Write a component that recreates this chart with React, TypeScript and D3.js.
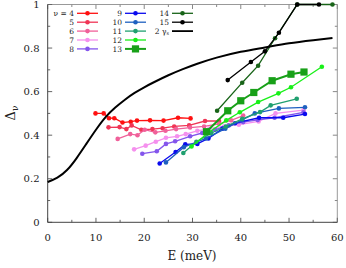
import React from "react";
import * as d3 from "d3";

const W = 346, H = 268;
const M = { left: 47.7, right: 337.3, top: 4.5, bottom: 222.3 };

const xTicks = [0, 10, 20, 30, 40, 50, 60];
const yTicks = [0, 0.2, 0.4, 0.6, 0.8, 1];
const yTickLabels = ["0", "0.2", "0.4", "0.6", "0.8", "1"];

const seriesNames = ["4", "5", "6", "7", "8", "9", "10", "11", "12", "13", "14", "15"];
const seriesColors = ["#ff1010", "#f03555", "#f0609a", "#f590ee", "#8455ec", "#0a0aee", "#1e60c0", "#20a070", "#18f018", "#18a018", "#186418", "#000000"];

const s4 = [[9.9,0.50],[11.6,0.50],[12.7,0.478],[13.8,0.478],[15.5,0.458],[17.2,0.462],[18.5,0.467],[21.2,0.468],[24.0,0.467],[27.0,0.48],[29.6,0.477]];
const s5 = [[12.6,0.436],[14.9,0.437],[16.3,0.428],[17.4,0.445],[19.4,0.425],[21.7,0.428],[23.8,0.432],[26.2,0.44],[29.3,0.445],[32.6,0.465],[35.5,0.465]];
const s6 = [[14.5,0.383],[17.1,0.405],[18.6,0.40],[20.1,0.425],[22.3,0.413],[24.4,0.42],[26.6,0.428],[29.5,0.435],[32.4,0.44],[35.5,0.452],[38.0,0.468],[40.5,0.49]];
const s7 = [[17.9,0.335],[20.3,0.352],[22.4,0.37],[24.5,0.388],[26.8,0.395],[28.6,0.405],[31.0,0.42],[33.5,0.43],[36.5,0.44],[39.6,0.448],[43.7,0.463],[47.2,0.50],[53.0,0.515]];
const s8 = [[19.6,0.315],[22.6,0.326],[24.5,0.36],[26.4,0.372],[29.5,0.395],[32.0,0.41],[34.7,0.425],[37.5,0.445],[40.5,0.46],[43.5,0.47],[47.0,0.48],[53.0,0.505]];
const s9 = [[23.2,0.27],[26.5,0.323],[28.5,0.358],[31.0,0.36],[33.3,0.385],[36.2,0.43],[38.8,0.455],[43.8,0.48],[48.8,0.48],[53.3,0.497]];
const s10 = [[24.5,0.275],[28.2,0.345],[32.8,0.385],[36.8,0.43],[40.3,0.47],[42.9,0.50],[47.9,0.523],[53.3,0.528]];
const s11 = [[28.1,0.318],[30.8,0.37],[33.9,0.41],[36.9,0.44],[40.3,0.475],[44.0,0.506],[46.2,0.537],[51.6,0.567]];
const s12 = [[29.8,0.348],[33.2,0.41],[37.0,0.468],[39.8,0.505],[43.6,0.552],[47.8,0.592],[50.4,0.62],[56.8,0.714]];
const s13 = [[32.9,0.416],[37.3,0.512],[40.0,0.558],[42.7,0.596],[46.5,0.65],[50.4,0.68],[53.1,0.69]];
const s14 = [[35.1,0.512],[40.3,0.641],[43.6,0.719],[47.1,0.845],[51.7,1.0],[59.0,1.0]];
const s15 = [[37.3,0.653],[42.1,0.736],[45.0,0.785],[47.9,0.87],[51.7,1.0],[56.2,1.0]];
const seriesData = [s4, s5, s6, s7, s8, s9, s10, s11, s12, s13, s14, s15];

const gammaCurve = [[0,0.185],[2,0.205],[4,0.24],[6,0.295],[8,0.36],[10,0.425],[12,0.483],[14,0.527],[16,0.563],[18,0.594],[20,0.62],[22,0.643],[25,0.675],[28,0.703],[31,0.728],[35,0.756],[40,0.783],[45,0.803],[50,0.822],[55,0.836],[59,0.846]];

const x = d3.scaleLinear().domain([0, 60]).range([M.left, M.right]);
const y = d3.scaleLinear().domain([0, 1]).range([M.bottom, M.top]);

const FONT = "'DejaVu Serif', serif";

export default function App() {
  const line = d3.line<number[]>().x(d => x(d[0])).y(d => y(d[1]));
  const curve = d3.line<number[]>().x(d => x(d[0])).y(d => y(d[1])).curve(d3.curveNatural);
  const xMinor = d3.range(0, 61, 5);
  const yMinor = d3.range(0, 1.001, 0.1);

  const legendCols = [
    { labelX: 74, x0: 77, x1: 98 },
    { labelX: 122, x0: 125, x1: 146 },
    { labelX: 169, x0: 172, x1: 193 },
  ];
  const rowY = (i: number) => 13.3 + i * 8.9;

  const legendItems = seriesNames.map((n, i) => {
    const col = i < 5 ? 0 : i < 10 ? 1 : 2;
    const row = i < 5 ? i : i < 10 ? i - 5 : i - 10;
    return { name: i === 0 ? "\u03bd = 4" : n, color: seriesColors[i], col, row, idx: i };
  });

  return (
    <svg width={W} height={H} style={{ position: "absolute", left: 0, top: 0, background: "#fff" }}>
      <line x1={M.left} x2={M.right} y1={M.top} y2={M.top} stroke="#999" strokeWidth={1} />
      <line x1={M.right} x2={M.right} y1={M.top} y2={M.bottom} stroke="#999" strokeWidth={1} />
      {xMinor.map((v, i) => {
        const major = v % 10 === 0;
        const len = major ? 4.5 : 2.5;
        return (
          <g key={"xt" + i}>
            <line x1={x(v)} x2={x(v)} y1={M.bottom} y2={M.bottom - len} stroke="#666" />
            <line x1={x(v)} x2={x(v)} y1={M.top} y2={M.top + len} stroke="#888" />
          </g>
        );
      })}
      {yMinor.map((v, i) => {
        const major = i % 2 === 0;
        const len = major ? 4.5 : 2.5;
        return (
          <g key={"yt" + i}>
            <line x1={M.left} x2={M.left + len} y1={y(v)} y2={y(v)} stroke="#666" />
            <line x1={M.right} x2={M.right - len} y1={y(v)} y2={y(v)} stroke="#888" />
          </g>
        );
      })}
      <line x1={M.left} x2={M.left} y1={M.top} y2={M.bottom} stroke="#444" strokeWidth={1} />
      <line x1={M.left} x2={M.right} y1={M.bottom} y2={M.bottom} stroke="#444" strokeWidth={1} />

      {xTicks.map(v => (
        <text key={"xl" + v} x={x(v)} y={241} textAnchor="middle" fontFamily={FONT} fontSize={10} fill="#222">{v}</text>
      ))}
      {yTicks.map((v, i) => (
        <text key={"yl" + v} x={39.5} y={y(v) + 3.6} textAnchor="end" fontFamily={FONT} fontSize={10} fill="#222">{yTickLabels[i]}</text>
      ))}
      <text x={192} y={260} textAnchor="middle" fontFamily={FONT} fontSize={12} fill="#222">E (meV)</text>
      <text transform={`translate(15,${113}) rotate(-90)`} textAnchor="middle" fontFamily={FONT} fontSize={13} fill="#222">
        {"\u0394"}<tspan dy={3} fontSize={9}>{"\u03bd"}</tspan>
      </text>

      {seriesData.map((s, i) => (
        <g key={"s" + i}>
          <path d={line(s) || ""} fill="none" stroke={seriesColors[i]} strokeWidth={i === 9 ? 2 : 1.3} />
          {s.map((p, j) =>
            i === 9 ? (
              <rect key={j} x={x(p[0]) - 3.6} y={y(p[1]) - 3.6} width={7.2} height={7.2} fill={seriesColors[i]} />
            ) : (
              <circle key={j} cx={x(p[0])} cy={y(p[1])} r={2.3} fill={seriesColors[i]} />
            )
          )}
        </g>
      ))}
      <path d={curve(gammaCurve) || ""} fill="none" stroke="#000" strokeWidth={2} />

      {legendItems.map(it => {
        const c = legendCols[it.col];
        const yy = rowY(it.row);
        const mx = (c.x0 + c.x1) / 2;
        return (
          <g key={"lg" + it.idx}>
            <text x={c.labelX} y={yy + 2.7} textAnchor="end" fontFamily={FONT} fontSize={7.5} fill="#222">{it.name}</text>
            <line x1={c.x0} x2={c.x1} y1={yy} y2={yy} stroke={it.color} strokeWidth={it.idx === 9 ? 2 : 1.3} />
            {it.idx === 9 ? (
              <rect x={mx - 3.6} y={yy - 3.6} width={7.2} height={7.2} fill={it.color} />
            ) : (
              <circle cx={mx} cy={yy} r={2.3} fill={it.color} />
            )}
          </g>
        );
      })}
      <g>
        <text x={legendCols[2].labelX} y={rowY(2) + 2.7} textAnchor="end" fontFamily={FONT} fontSize={7.5} fill="#222">
          2 {"\u03b3"}<tspan fontSize={5} dy={1.5}>s</tspan>
        </text>
        <line x1={legendCols[2].x0} x2={legendCols[2].x1} y1={rowY(2)} y2={rowY(2)} stroke="#000" strokeWidth={1.8} />
      </g>
    </svg>
  );
}
